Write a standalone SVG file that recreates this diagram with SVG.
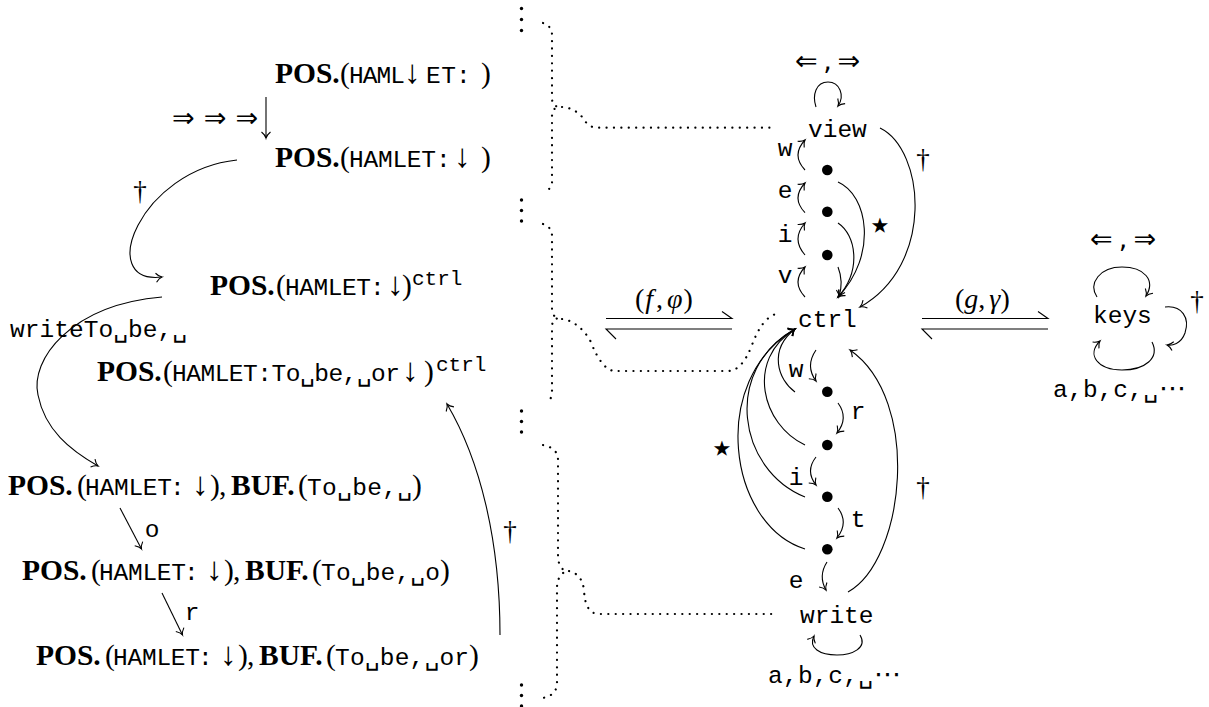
<svg xmlns="http://www.w3.org/2000/svg" width="1209" height="707" viewBox="0 0 1209 707">
<style>
.b{font-family:"Liberation Serif",serif;font-weight:bold;font-size:29.5px}
.r{font-family:"Liberation Serif","DejaVu Serif",serif;font-size:29.5px}
.m{font-family:"Liberation Mono","DejaVu Sans Mono",monospace;font-size:24.5px}
.sup{font-family:"Liberation Mono","DejaVu Sans Mono",monospace;font-size:21px}
.ar{font-family:"Liberation Serif","DejaVu Serif",serif;font-size:33px}
.it{font-family:"Liberation Serif","DejaVu Serif",serif;font-style:italic;font-size:28px}
.up{font-family:"Liberation Serif","DejaVu Serif",serif;font-style:normal;font-size:28px}
.sym{font-family:"DejaVu Sans",sans-serif;font-size:27px}
.star{font-family:"DejaVu Sans",sans-serif;font-size:42px}
.dg{font-family:"Liberation Serif","DejaVu Serif",serif;font-size:27px}
.ln{fill:none;stroke:#000;stroke-width:1.1}
.dot{fill:none;stroke:#000;stroke-width:2.2;stroke-linecap:round;stroke-dasharray:0.1 7.3}
text{fill:#000}
</style>
<defs>
<marker id="to" markerUnits="userSpaceOnUse" markerWidth="14" markerHeight="14" refX="0" refY="0" viewBox="-8 -7 10 14" orient="auto" overflow="visible">
<path d="M-6,-4.5 C-4,-2 -1.5,-0.4 0,0 C-1.5,0.4 -4,2 -6,4.5" fill="none" stroke="#000" stroke-width="1.1"/>
</marker>
</defs>

<!-- left column nodes -->
<g id="n1">
<text y="83"><tspan class="b" x="275">POS.</tspan><tspan class="r" x="340">(</tspan><tspan class="m" x="349" textLength="56">HAML</tspan><tspan class="ar" x="404">↓</tspan><tspan class="m" x="426" textLength="30">ET</tspan><tspan class="m" x="456">:</tspan><tspan class="r" x="481">)</tspan></text>
</g>
<g id="n2">
<text y="167"><tspan class="b" x="275">POS.</tspan><tspan class="r" x="340">(</tspan><tspan class="m" x="349" textLength="87">HAMLET</tspan><tspan class="m" x="436">:</tspan><tspan class="ar" x="454">↓</tspan><tspan class="r" x="481">)</tspan></text>
</g>
<g id="n3">
<text y="295"><tspan class="b" x="210">POS.</tspan><tspan class="r" x="276">(</tspan><tspan class="m" x="285" textLength="86">HAMLET</tspan><tspan class="m" x="370">:</tspan><tspan class="ar" x="387">↓</tspan><tspan class="r" x="402">)</tspan><tspan class="sup" x="412" y="285">ctrl</tspan></text>
</g>
<g id="lbl-write">
<text class="m" x="10" y="337" textLength="177">writeTo␣be,␣</text>
</g>
<g id="n4">
<text y="381"><tspan class="b" x="97">POS.</tspan><tspan class="r" x="163">(</tspan><tspan class="m" x="172" textLength="228">HAMLET:To␣be,␣or</tspan><tspan class="ar" x="402">↓</tspan><tspan class="r" x="424">)</tspan><tspan class="sup" x="436" y="371">ctrl</tspan></text>
</g>
<g id="n5">
<text y="495"><tspan class="b" x="8">POS.</tspan><tspan class="r" x="77">(</tspan><tspan class="m" x="85" textLength="87">HAMLET</tspan><tspan class="m" x="170">:</tspan><tspan class="ar" x="192">↓</tspan><tspan class="r" x="210">)</tspan><tspan class="r" x="219">,</tspan><tspan class="b" x="231">BUF.</tspan><tspan class="r" x="298">(</tspan><tspan class="m" x="307" textLength="105">To␣be,␣</tspan><tspan class="r" x="412">)</tspan></text>
</g>
<g id="n6">
<text y="580"><tspan class="b" x="22">POS.</tspan><tspan class="r" x="91">(</tspan><tspan class="m" x="99" textLength="87">HAMLET</tspan><tspan class="m" x="184">:</tspan><tspan class="ar" x="206">↓</tspan><tspan class="r" x="224">)</tspan><tspan class="r" x="233">,</tspan><tspan class="b" x="245">BUF.</tspan><tspan class="r" x="312">(</tspan><tspan class="m" x="321" textLength="119">To␣be,␣o</tspan><tspan class="r" x="440">)</tspan></text>
</g>
<g id="n7">
<text y="665"><tspan class="b" x="36">POS.</tspan><tspan class="r" x="105">(</tspan><tspan class="m" x="113" textLength="87">HAMLET</tspan><tspan class="m" x="198">:</tspan><tspan class="ar" x="220">↓</tspan><tspan class="r" x="238">)</tspan><tspan class="r" x="247">,</tspan><tspan class="b" x="259">BUF.</tspan><tspan class="r" x="326">(</tspan><tspan class="m" x="335" textLength="134">To␣be,␣or</tspan><tspan class="r" x="469">)</tspan></text>
</g>

<!-- right nodes -->
<g id="view">
<text class="m" x="808" y="137">view</text>
<text class="sym" x="795" y="70" textLength="65">⇐,⇒</text>
</g>
<g id="v1"><circle cx="827.3" cy="170" r="5.3"/></g>
<g id="v2"><circle cx="827.3" cy="211.7" r="5.3"/></g>
<g id="v3"><circle cx="827.3" cy="255" r="5.3"/></g>
<g id="ctrl"><text class="m" x="798" y="327">ctrl</text></g>
<g id="c1"><circle cx="827.3" cy="391.7" r="5.3"/></g>
<g id="c2"><circle cx="827.3" cy="445" r="5.3"/></g>
<g id="c3"><circle cx="827.3" cy="496.7" r="5.3"/></g>
<g id="c4"><circle cx="827.3" cy="549.3" r="5.3"/></g>
<g id="write">
<text class="m" x="800" y="623">write</text>
<text x="768" y="683"><tspan class="m" textLength="105">a,b,c,␣</tspan><tspan class="sym" x="874" textLength="29" font-size="24">⋯</tspan></text>
</g>
<g id="keys">
<text class="m" x="1093" y="323">keys</text>
<text class="sym" x="1090" y="248" textLength="66">⇐,⇒</text>
<text x="1053" y="397"><tspan class="m" textLength="105">a,b,c,␣</tspan><tspan class="sym" x="1159" textLength="29" font-size="24">⋯</tspan></text>
</g>

<!-- connectors -->
<g id="connectors">
<!-- left -->
<path class="ln" d="M266,97 V138" marker-end="url(#to)"/>
<text class="sym" x="172" y="127" font-size="34" textLength="86">⇒⇒⇒</text>
<path class="ln" d="M237,160 C140,170 95,285 162,277" marker-end="url(#to)"/>
<text class="dg" x="140" y="200" text-anchor="middle">†</text>
<path class="ln" d="M162,297 C70,305 30,360 38,395 C45,430 70,450 98,466" marker-end="url(#to)"/>
<path class="ln" d="M120,508 L141.5,549" marker-end="url(#to)"/>
<text class="m" x="152" y="537" text-anchor="middle">o</text>
<path class="ln" d="M162,593 L182.5,635" marker-end="url(#to)"/>
<text class="m" x="192" y="620" text-anchor="middle">r</text>
<path class="ln" d="M500,635 C500,540 480,460 447,404" marker-end="url(#to)"/>
<text class="dg" x="510" y="540" text-anchor="middle">†</text>

<!-- vdots -->
<g>
<circle cx="521.5" cy="8.5" r="1.7"/><circle cx="521.5" cy="19.5" r="1.7"/><circle cx="521.5" cy="30.5" r="1.7"/>
<circle cx="521.5" cy="200" r="1.7"/><circle cx="521.5" cy="210.5" r="1.7"/><circle cx="521.5" cy="221" r="1.7"/>
<circle cx="521.5" cy="411" r="1.7"/><circle cx="521.5" cy="421.5" r="1.7"/><circle cx="521.5" cy="432" r="1.7"/>
<circle cx="521.5" cy="685" r="1.7"/><circle cx="521.5" cy="695.5" r="1.7"/><circle cx="521.5" cy="706" r="1.7"/>
</g>
<!-- braces -->
<path class="dot" d="M543,23 Q552,26 552,35 V98 Q552,106 559,107 Q552,108 552,116 V182 Q552,189 545,191"/>
<path class="dot" d="M562,107 Q575,108 583,118 Q588,127 596,127.7 H776"/>
<path class="dot" d="M543,224 Q552,227 552,236 V309 Q552,317 559,318 Q552,319 552,327 V393 Q552,400 545,402"/>
<path class="dot" d="M562,319 Q578,321 590,340 Q602,371 615,371 H728 Q742,371 752,345 Q762,318 776,314"/>
<path class="dot" d="M543,445 Q558,448 558,460 V555 Q558,568 566,571 Q557,576 557,588 V683 Q557,695 543,698"/>
<path class="dot" d="M569,571 Q582,574 584,590 Q585,613 598,614 H776"/>

<!-- harpoons -->
<path class="ln" d="M606,318.5 H732 L722,311.5"/>
<path class="ln" d="M732,329 H606 L616,339"/>
<text x="635" y="308"><tspan class="up">(</tspan><tspan class="it" dx="1">f</tspan><tspan class="up" dx="3">,</tspan><tspan class="it" dx="4">φ</tspan><tspan class="up" dx="1">)</tspan></text>
<path class="ln" d="M922,318.5 H1048 L1038,311.5"/>
<path class="ln" d="M1048,329 H922 L932,339"/>
<text x="955" y="308"><tspan class="up">(</tspan><tspan class="it">g</tspan><tspan class="up">,</tspan><tspan class="it" dx="4">γ</tspan><tspan class="up">)</tspan></text>

<!-- view loop and upper chain -->
<path class="ln" d="M816,107 C812,95 816,82 828,82 C840,82 845,96 838,106" marker-end="url(#to)"/>
<path class="ln" d="M805,170 Q791,155 805,140" marker-end="url(#to)"/>
<path class="ln" d="M805,212.7 Q791,198 805,183" marker-end="url(#to)"/>
<path class="ln" d="M805,255 Q791,239 805,223" marker-end="url(#to)"/>
<path class="ln" d="M805,297 Q791,282 805,267" marker-end="url(#to)"/>
<text class="m" x="785" y="156" text-anchor="middle">w</text>
<text class="m" x="785" y="198" text-anchor="middle">e</text>
<text class="m" x="785" y="242" text-anchor="middle">i</text>
<text class="m" x="785" y="283" text-anchor="middle">v</text>
<path class="ln" d="M838,182 C868,195 878,255 838,297" marker-end="url(#to)"/>
<path class="ln" d="M838,223 C856,235 862,270 838,297" marker-end="url(#to)"/>
<path class="ln" d="M838,267 C842,277 842,287 839,297" marker-end="url(#to)"/>
<text class="star" x="880" y="239" text-anchor="middle">⋆</text>
<path class="ln" d="M880,128 C925,150 935,265 860,307" marker-end="url(#to)"/>
<text class="dg" x="923" y="168" text-anchor="middle">†</text>

<!-- lower chain -->
<path class="ln" d="M816,350 Q805,366 816,381" marker-end="url(#to)"/>
<path class="ln" d="M838,403 Q849,418 837,433" marker-end="url(#to)"/>
<path class="ln" d="M816,457 Q805,471 816,485" marker-end="url(#to)"/>
<path class="ln" d="M838,508 Q849,523 837,538" marker-end="url(#to)"/>
<path class="ln" d="M827,562 Q818,576 826,590" marker-end="url(#to)"/>
<text class="m" x="796" y="377" text-anchor="middle">w</text>
<text class="m" x="858" y="419" text-anchor="middle">r</text>
<text class="m" x="796" y="485" text-anchor="middle">i</text>
<text class="m" x="858" y="527" text-anchor="middle">t</text>
<text class="m" x="796" y="588" text-anchor="middle">e</text>
<path class="ln" d="M795,392 C778,380 768,350 795,329" marker-end="url(#to)"/>
<path class="ln" d="M805,445 C762,425 745,360 795,329" marker-end="url(#to)"/>
<path class="ln" d="M805,497 C738,470 722,370 795,329" marker-end="url(#to)"/>
<path class="ln" d="M805,549 C728,525 708,380 795,329" marker-end="url(#to)"/>
<text class="star" x="722" y="462" text-anchor="middle">⋆</text>
<path class="ln" d="M848,592 C905,560 922,400 850,350" marker-end="url(#to)"/>
<text class="dg" x="923" y="496" text-anchor="middle">†</text>
<path class="ln" d="M860,635 C868,648 852,655 837,655 C820,655 808,648 814,636" marker-end="url(#to)"/>

<!-- keys loops -->
<path class="ln" d="M1097,297 C1088,283 1100,267 1122,267 C1144,267 1156,280 1146,296" marker-end="url(#to)"/>
<path class="ln" d="M1152,342 C1160,358 1145,370 1122,370 C1098,370 1086,355 1100,341" marker-end="url(#to)"/>
<path class="ln" d="M1165,307 C1182,305 1190,318 1185,333 C1181,344 1172,346 1167,345" marker-end="url(#to)"/>
<text class="dg" x="1197" y="310" text-anchor="middle">†</text>
</g>
</svg>
